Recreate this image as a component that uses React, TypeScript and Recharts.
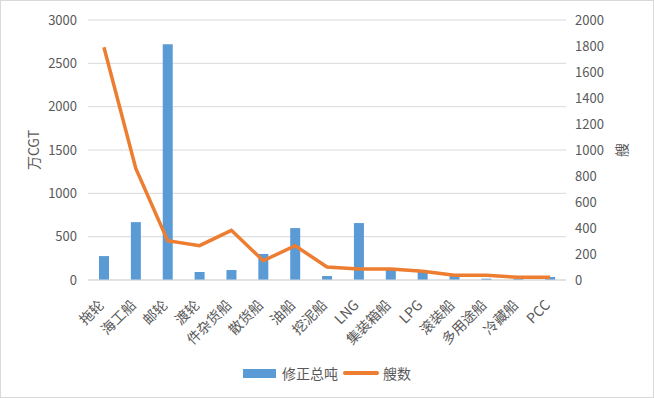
import React from 'react';
import { ComposedChart, Bar, Line, XAxis, YAxis, CartesianGrid, Legend } from 'recharts';

const categories = ['拖轮', '海工船', '邮轮', '渡轮', '件杂货船', '散货船', '油船', '挖泥船', 'LNG', '集装箱船', 'LPG', '滚装船', '多用途船', '冷藏船', 'PCC'];
const cgtValues = [276, 668, 2720, 92, 115, 300, 599, 46, 657, 120, 100, 45, 15, 15, 35];
const shipCounts = [1790, 859, 302, 264, 382, 148, 264, 100, 85, 85, 67, 36, 36, 21, 21];
const leftTicks = [0, 500, 1000, 1500, 2000, 2500, 3000];
const rightTicks = [0, 200, 400, 600, 800, 1000, 1200, 1400, 1600, 1800, 2000];

const data = categories.map((name, i) => ({ name, cgt: cgtValues[i], ships: shipCounts[i] }));

const FONT = '"Noto Sans CJK SC", "Noto Sans", sans-serif';
const TEXT = '#595959';
const BLUE = '#5B9BD5';
const ORANGE = '#ED7D31';

const XTick = (props: any) => {
  const { x, y, payload } = props;
  return (
    <g transform={`translate(${x + 1},${y + 24})`}>
      <text transform="rotate(-45)" textAnchor="end" fill={TEXT} fontSize={14} fontFamily={FONT}>
        {payload.value}
      </text>
    </g>
  );
};

const LegendContent = () => (
  <div style={{ height: 24, display: 'flex', justifyContent: 'center', alignItems: 'center', fontFamily: FONT, fontSize: 14, color: TEXT }}>
    <div style={{ width: 33, height: 9, background: BLUE, marginRight: 6 }} />
    <span style={{ marginRight: 5 }}>修正总吨</span>
    <div style={{ width: 36, height: 4, background: ORANGE, borderRadius: 2, marginRight: 4 }} />
    <span>艘数</span>
  </div>
);

export default function App() {
  return (
    <div style={{ position: 'absolute', left: 0, top: 0, width: 654, height: 398, border: '1px solid #d9d9d9', boxSizing: 'border-box', background: '#fff' }}>
      <ComposedChart width={652} height={396} data={data} margin={{ top: 19, right: 0, bottom: 12, left: 0 }}>
        <CartesianGrid yAxisId="left" vertical={false} stroke="#d9d9d9" />
        <XAxis
          dataKey="name"
          interval={0}
          tickLine={false}
          tickSize={0}
          axisLine={{ stroke: '#d9d9d9' }}
          height={81}
          tick={<XTick />}
        />
        <YAxis
          yAxisId="left"
          orientation="left"
          width={87}
          domain={[0, 3000]}
          ticks={leftTicks}
          axisLine={false}
          tickLine={false}
          tickSize={0}
          tickMargin={11}
          tick={{ fill: TEXT, fontSize: 13, fontFamily: FONT }}
        />
        <YAxis
          yAxisId="right"
          orientation="right"
          width={87}
          domain={[0, 2000]}
          ticks={rightTicks}
          axisLine={false}
          tickLine={false}
          tickSize={0}
          tickMargin={9}
          tick={{ fill: TEXT, fontSize: 13, fontFamily: FONT, textAnchor: 'start' }}
        />
        <Bar yAxisId="left" dataKey="cgt" name="修正总吨" fill={BLUE} barSize={10} isAnimationActive={false} />
        <Line yAxisId="right" dataKey="ships" name="艘数" stroke={ORANGE} strokeWidth={3.5} dot={false} type="linear" isAnimationActive={false} />
        <Legend verticalAlign="bottom" content={<LegendContent />} />
      </ComposedChart>
      <div style={{ position: 'absolute', left: 32, top: 149, transform: 'translate(-50%, -50%) rotate(-90deg)', fontFamily: FONT, fontSize: 14, color: TEXT, whiteSpace: 'nowrap' }}>万CGT</div>
      <div style={{ position: 'absolute', left: 620, top: 149, transform: 'translate(-50%, -50%) rotate(-90deg)', fontFamily: FONT, fontSize: 14, color: TEXT, whiteSpace: 'nowrap' }}>艘</div>
    </div>
  );
}
